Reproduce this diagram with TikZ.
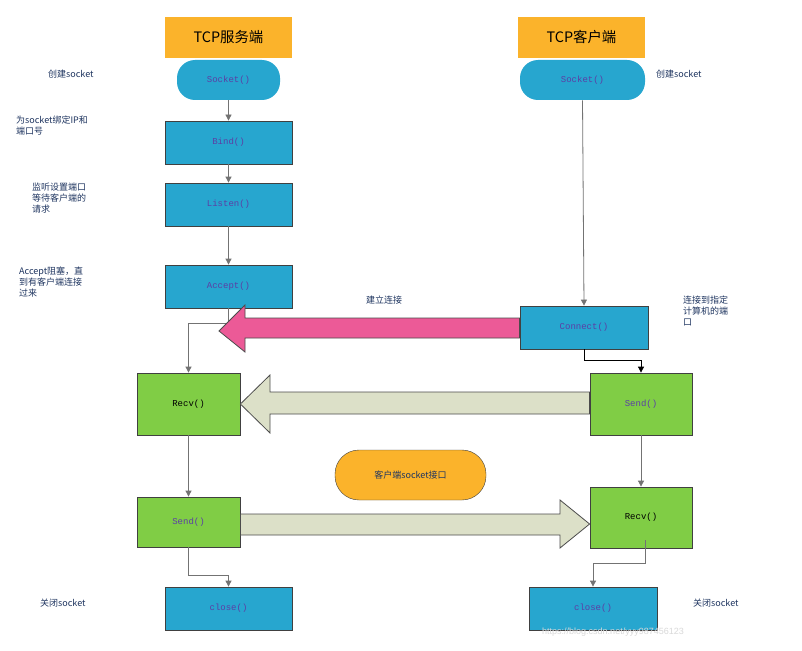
\documentclass[tikz,border=0pt]{standalone}
\usepackage{fontspec}
\setmainfont{Liberation Sans}
\newfontfamily\cjk{Noto Sans CJK SC}
\setmonofont{Liberation Mono}
\usetikzlibrary{arrows.meta}
\definecolor{boxb}{HTML}{27A6CF}
\definecolor{boxg}{HTML}{80CD45}
\definecolor{ttl}{HTML}{FBB32B}
\definecolor{pink}{HTML}{EC5A97}
\definecolor{beige}{HTML}{DCE0C8}
\definecolor{lbl}{HTML}{1F3560}
\definecolor{fn}{HTML}{5B3FA5}
\begin{document}
\begin{tikzpicture}[x=1pt,y=-1pt,
  box/.style={draw=black!75,line width=0.8pt,fill=boxb,font=\ttfamily\small,text=fn},
  gbox/.style={draw=black!75,line width=0.8pt,fill=boxg,font=\ttfamily\small,text=fn},
  lab/.style={font=\cjk\small,text=lbl,align=left,anchor=north west,inner sep=0pt},
  conn/.style={draw=black!55,line width=0.8pt,-{Triangle[length=6pt,width=6pt]}},
  bigarr/.style={draw=black!70,line width=0.8pt}]
\useasboundingbox (0,0) rectangle (802,650);
\fill[white] (0,0) rectangle (802,650);
% titles
\node[fill=ttl,minimum width=127pt,minimum height=41pt,font=\cjk\Large] (ts) at (228.5,37.5) {TCP服务端};
\node[fill=ttl,minimum width=127pt,minimum height=41pt,font=\cjk\Large] (tc) at (581.5,37.5) {TCP客户端};
% server
\node[box,rounded corners=18pt,draw=none,minimum width=103pt,minimum height=40pt] (s1) at (228.5,80) {Socket()};
\node[box,minimum width=127pt,minimum height=43pt] (s2) at (228.5,142.5) {Bind()};
\node[box,minimum width=127pt,minimum height=43pt] (s3) at (228.5,204.5) {Listen()};
\node[box,minimum width=127pt,minimum height=43pt] (s4) at (228.5,286.5) {Accept()};
\node[gbox,minimum width=103pt,minimum height=62pt,text=black] (s5) at (188.5,404) {Recv()};
\node[gbox,minimum width=103pt,minimum height=50pt] (s6) at (188.5,522) {Send()};
\node[box,minimum width=127pt,minimum height=43pt] (s7) at (228.5,608.5) {close()};
% client
\node[box,rounded corners=18pt,draw=none,minimum width=125pt,minimum height=40pt] (c1) at (582.5,80) {Socket()};
\node[box,minimum width=128pt,minimum height=43pt] (c2) at (584,327.5) {Connect()};
\node[gbox,minimum width=102pt,minimum height=62pt] (c3) at (641,404) {Send()};
\node[gbox,minimum width=102pt,minimum height=61pt,text=black] (c4) at (641,517.5) {Recv()};
\node[box,minimum width=128pt,minimum height=43pt] (c5) at (593,608.5) {close()};
\node[draw=black!75,fill=ttl,rounded corners=24pt,minimum width=151pt,minimum height=50pt,font=\cjk\small,text=lbl] (mid) at (410.5,475) {客户端socket接口};
% connectors
\draw[conn] (s1) -- (s2);
\draw[conn] (s2) -- (s3);
\draw[conn] (s3) -- (s4);
\draw[conn] (s4.south) -- ++(0,15) -| (s5.north);
\draw[conn] (s5.south) -- (s6.north);
\draw[conn] (s6.south) -- ++(0,28) -| (s7.north);
\draw[conn] (c1.south) -- (c2.north);
\draw[conn,draw=black] (c2.south) -- ++(0,11) -| (c3.north);
\draw[conn] (c3.south) -- (c4.north);
\draw[conn] (c4.south)++(4,-8) coordinate (cr) -- ++(0,23) -| (c5.north);
% big arrows
\draw[bigarr,fill=pink] (c2.west|-0,318) -- (245,318) -- (245,305) -- (219,331) -- (245,352) -- (245,338) -- (c2.west|-0,338) -- cycle;
\draw[bigarr,fill=beige] (c3.west|-0,392) -- (270,392) -- (270,375) -- (s5.east|-0,404) -- (270,433) -- (270,414) -- (c3.west|-0,414) -- cycle;
\draw[bigarr,fill=beige] (s6.east|-0,514) -- (560,514) -- (560,500) -- (c4.west|-0,524) -- (560,548) -- (560,535) -- (s6.east|-0,535) -- cycle;
% labels
\node[lab] (l1) at (48,70) {创建socket};
\node[lab] (l2) at (16,116) {为socket绑定IP和\\端口号};
\node[lab,font=\cjk\small] (l3) at (32,183) {监听设置端口\\等待客户端的\\请求};
\node[lab] (l4) at (19,267) {Accept阻塞，直\\到有客户端连接\\过来};
\node[lab] (l5) at (366,296) {建立连接};
\node[lab] (l6) at (683,296) {连接到指定\\计算机的端\\口};
\node[lab] (l7) at (656,70) {创建socket};
\node[lab] (l8) at (40,599) {关闭socket};
\node[lab] (l9) at (693,599) {关闭socket};
\node[font=\small,text=black!15,anchor=west,inner sep=0pt] (wm) at (542,632) {https://blog.csdn.net/yyy987456123};
\end{tikzpicture}
\end{document}
